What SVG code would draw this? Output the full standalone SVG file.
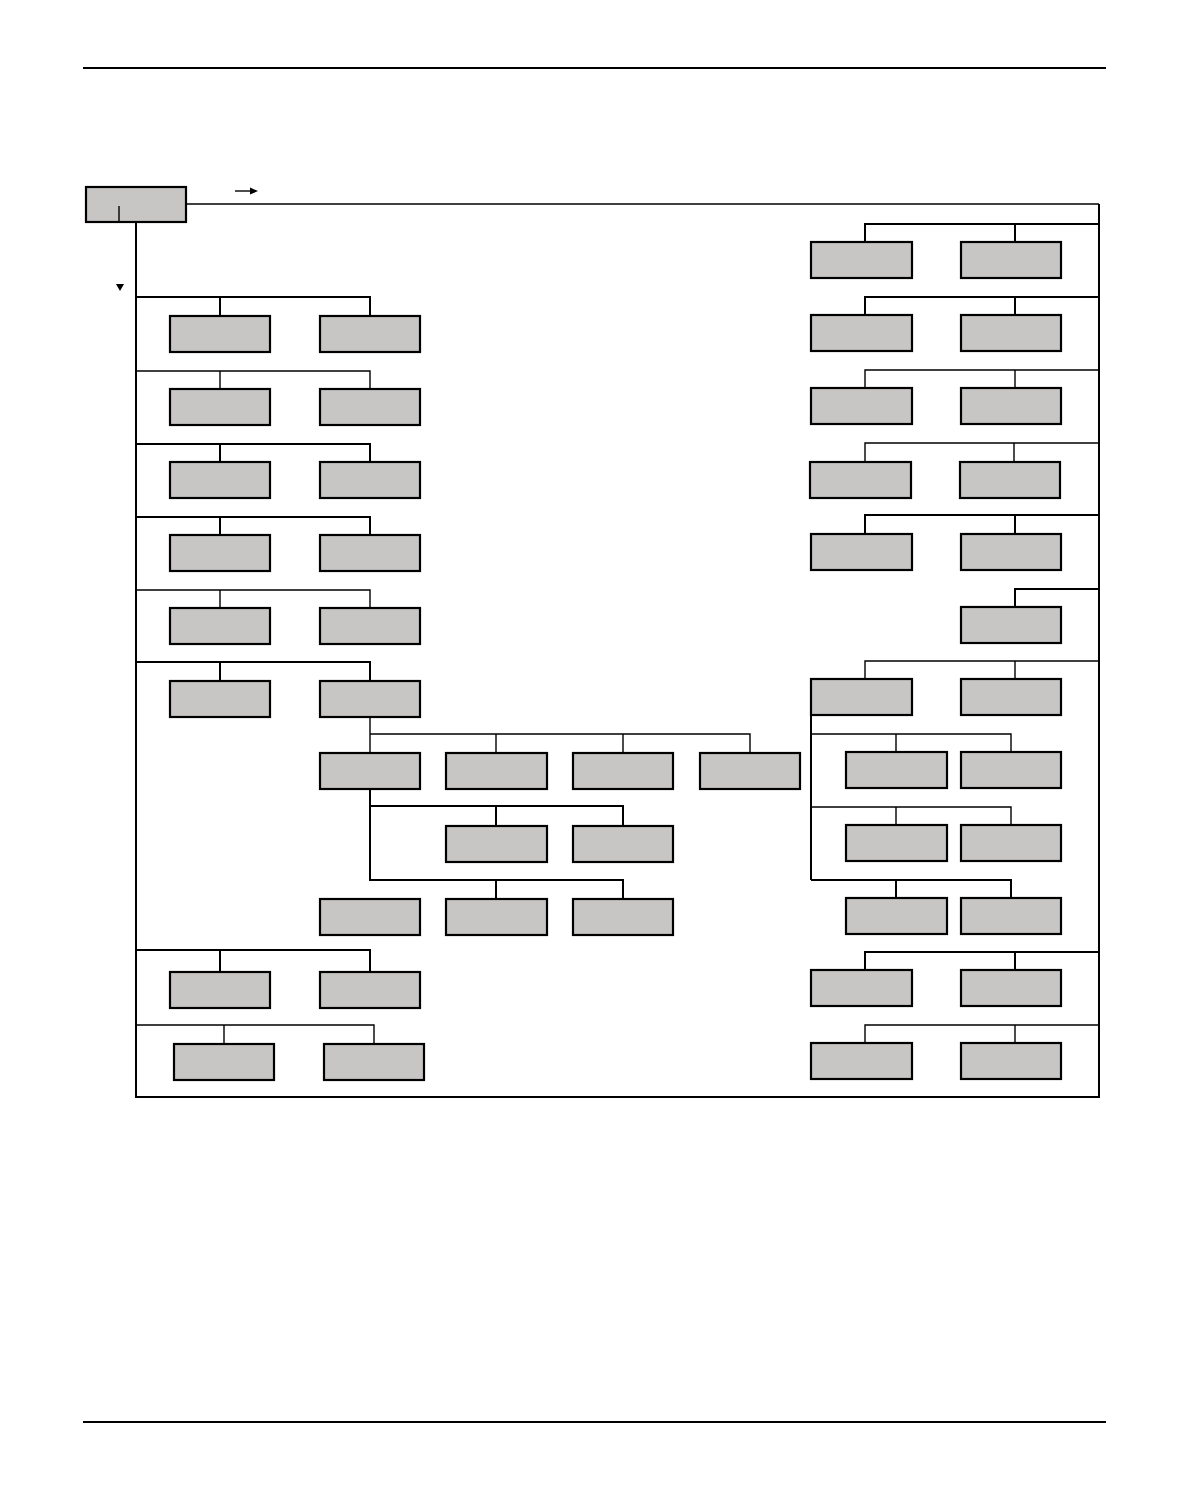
<svg xmlns="http://www.w3.org/2000/svg" width="1190" height="1503" viewBox="0 0 1190 1503">
<style>
.b{fill:#c8c6c4;stroke:#000;stroke-width:2.2}
.t{stroke:#000;stroke-width:1.4;fill:none}
.k{stroke:#000;stroke-width:2;fill:none}
</style>
<rect width="1190" height="1503" fill="#fff"/>
<line x1="83" y1="68" x2="1106" y2="68" stroke="#000" stroke-width="2"/>
<line x1="83" y1="1422" x2="1106" y2="1422" stroke="#000" stroke-width="2"/>
<g id="connectors">
<path class="t" d="M186 204H1099"/>
<path class="k" d="M1099 204V1097H136V222"/>
<line class="t" x1="235" y1="191" x2="250" y2="191"/>
<polygon points="250,187.5 258,191 250,194.5" fill="#000"/>
<polygon points="116,284 124,284 120,291" fill="#000"/>
<path class="k" d="M136 297H370V316M220 297V316"/>
<path class="t" d="M136 371H370V389M220 371V389"/>
<path class="k" d="M136 444H370V462M220 444V462"/>
<path class="k" d="M136 517H370V535M220 517V535"/>
<path class="t" d="M136 590H370V608M220 590V608"/>
<path class="k" d="M136 662H370V681M220 662V681"/>
<path class="t" d="M370 717V753M370 734H750V753M496 734V753M623 734V753"/>
<path class="k" d="M370 789V880H623V899M370 806H623V826M496 806V826M496 880V899"/>
<path class="k" d="M136 950H370V972M220 950V972"/>
<path class="t" d="M136 1025H374V1044M224 1025V1044"/>
<path class="k" d="M1099 224H865V242M1015 224V242"/>
<path class="k" d="M1099 297H865V315M1015 297V315"/>
<path class="t" d="M1099 370H865V388M1015 370V388"/>
<path class="t" d="M1099 443H865V462M1014 443V462"/>
<path class="k" d="M1099 515H865V534M1015 515V534"/>
<path class="k" d="M1099 589H1015V607"/>
<path class="t" d="M1099 661H865V679M1015 661V679"/>
<path class="k" d="M811 715V880"/>
<path class="t" d="M811 734H1011V752M896 734V752"/>
<path class="t" d="M811 807H1011V825M896 807V825"/>
<path class="k" d="M811 880H1011V898M896 880V898"/>
<path class="k" d="M1099 952H865V970M1015 952V970"/>
<path class="t" d="M1099 1025H865V1043M1015 1025V1043"/>
</g>
<g id="root"><rect class="b" x="86" y="187" width="100" height="35"/><line class="t" x1="119" y1="206" x2="119" y2="222"/></g>
<g id="L1a"><rect class="b" x="170" y="316" width="100" height="36"/></g>
<g id="L1b"><rect class="b" x="320" y="316" width="100" height="36"/></g>
<g id="L2a"><rect class="b" x="170" y="389" width="100" height="36"/></g>
<g id="L2b"><rect class="b" x="320" y="389" width="100" height="36"/></g>
<g id="L3a"><rect class="b" x="170" y="462" width="100" height="36"/></g>
<g id="L3b"><rect class="b" x="320" y="462" width="100" height="36"/></g>
<g id="L4a"><rect class="b" x="170" y="535" width="100" height="36"/></g>
<g id="L4b"><rect class="b" x="320" y="535" width="100" height="36"/></g>
<g id="L5a"><rect class="b" x="170" y="608" width="100" height="36"/></g>
<g id="L5b"><rect class="b" x="320" y="608" width="100" height="36"/></g>
<g id="L6a"><rect class="b" x="170" y="681" width="100" height="36"/></g>
<g id="L6b"><rect class="b" x="320" y="681" width="100" height="36"/></g>
<g id="M1a"><rect class="b" x="320" y="753" width="100" height="36"/></g>
<g id="M1b"><rect class="b" x="446" y="753" width="101" height="36"/></g>
<g id="M1c"><rect class="b" x="573" y="753" width="100" height="36"/></g>
<g id="M1d"><rect class="b" x="700" y="753" width="100" height="36"/></g>
<g id="M2b"><rect class="b" x="446" y="826" width="101" height="36"/></g>
<g id="M2c"><rect class="b" x="573" y="826" width="100" height="36"/></g>
<g id="M3a"><rect class="b" x="320" y="899" width="100" height="36"/></g>
<g id="M3b"><rect class="b" x="446" y="899" width="101" height="36"/></g>
<g id="M3c"><rect class="b" x="573" y="899" width="100" height="36"/></g>
<g id="L7a"><rect class="b" x="170" y="972" width="100" height="36"/></g>
<g id="L7b"><rect class="b" x="320" y="972" width="100" height="36"/></g>
<g id="L8a"><rect class="b" x="174" y="1044" width="100" height="36"/></g>
<g id="L8b"><rect class="b" x="324" y="1044" width="100" height="36"/></g>
<g id="R1a"><rect class="b" x="811" y="242" width="101" height="36"/></g>
<g id="R1b"><rect class="b" x="961" y="242" width="100" height="36"/></g>
<g id="R2a"><rect class="b" x="811" y="315" width="101" height="36"/></g>
<g id="R2b"><rect class="b" x="961" y="315" width="100" height="36"/></g>
<g id="R3a"><rect class="b" x="811" y="388" width="101" height="36"/></g>
<g id="R3b"><rect class="b" x="961" y="388" width="100" height="36"/></g>
<g id="R4a"><rect class="b" x="810" y="462" width="101" height="36"/></g>
<g id="R4b"><rect class="b" x="960" y="462" width="100" height="36"/></g>
<g id="R5a"><rect class="b" x="811" y="534" width="101" height="36"/></g>
<g id="R5b"><rect class="b" x="961" y="534" width="100" height="36"/></g>
<g id="R6b"><rect class="b" x="961" y="607" width="100" height="36"/></g>
<g id="R7a"><rect class="b" x="811" y="679" width="101" height="36"/></g>
<g id="R7b"><rect class="b" x="961" y="679" width="100" height="36"/></g>
<g id="S1a"><rect class="b" x="846" y="752" width="101" height="36"/></g>
<g id="S1b"><rect class="b" x="961" y="752" width="100" height="36"/></g>
<g id="S2a"><rect class="b" x="846" y="825" width="101" height="36"/></g>
<g id="S2b"><rect class="b" x="961" y="825" width="100" height="36"/></g>
<g id="S3a"><rect class="b" x="846" y="898" width="101" height="36"/></g>
<g id="S3b"><rect class="b" x="961" y="898" width="100" height="36"/></g>
<g id="R8a"><rect class="b" x="811" y="970" width="101" height="36"/></g>
<g id="R8b"><rect class="b" x="961" y="970" width="100" height="36"/></g>
<g id="R9a"><rect class="b" x="811" y="1043" width="101" height="36"/></g>
<g id="R9b"><rect class="b" x="961" y="1043" width="100" height="36"/></g>
</svg>
